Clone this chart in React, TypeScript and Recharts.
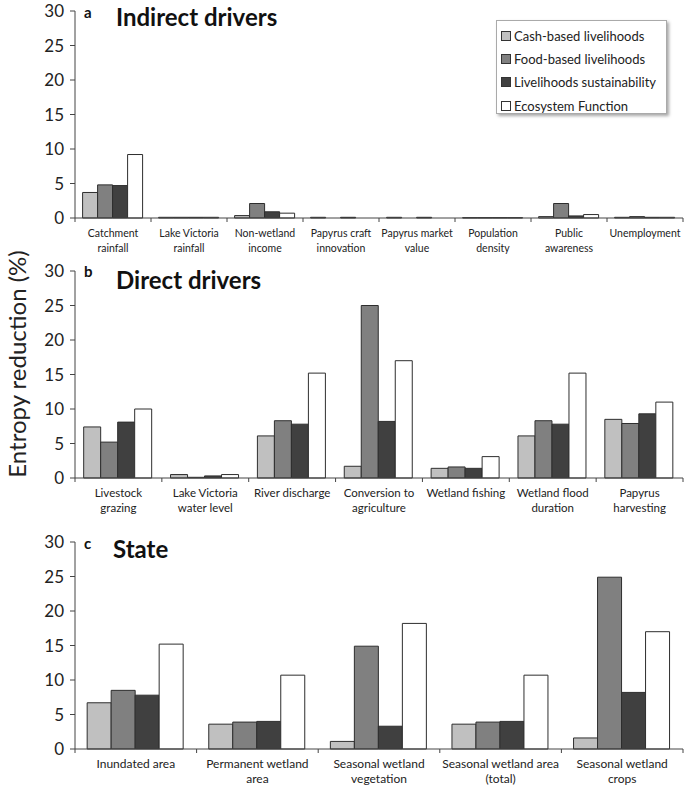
import React from "react";
import { BarChart, Bar, XAxis, YAxis } from "recharts";

const seriesNames = [
  "Cash-based livelihoods",
  "Food-based livelihoods",
  "Livelihoods sustainability",
  "Ecosystem Function",
];
const seriesKeys = ["cash", "food", "liv", "eco"];
const seriesFill = ["#c0c0c0", "#808080", "#404040", "#ffffff"];

const yTicks = [0, 5, 10, 15, 20, 25, 30];

// panel a
const indirectCats = [
  "Catchment\nrainfall",
  "Lake Victoria\nrainfall",
  "Non-wetland\nincome",
  "Papyrus craft\ninnovation",
  "Papyrus market\nvalue",
  "Population\ndensity",
  "Public\nawareness",
  "Unemployment",
];
const indirectCash = [3.7, 0.1, 0.35, 0.1, 0.1, 0.05, 0.2, 0.1];
const indirectFood = [4.8, 0.1, 2.1, 0, 0, 0.05, 2.1, 0.2];
const indirectLiv = [4.7, 0.1, 0.9, 0.1, 0.1, 0.05, 0.3, 0.1];
const indirectEco = [9.2, 0.1, 0.7, 0, 0, 0.05, 0.5, 0.1];

// panel b
const directCats = [
  "Livestock\ngrazing",
  "Lake Victoria\nwater level",
  "River discharge",
  "Conversion to\nagriculture",
  "Wetland fishing",
  "Wetland flood\nduration",
  "Papyrus\nharvesting",
];
const directCash = [7.4, 0.5, 6.1, 1.7, 1.4, 6.1, 8.5];
const directFood = [5.2, 0.1, 8.3, 25.0, 1.6, 8.3, 7.9];
const directLiv = [8.1, 0.3, 7.8, 8.2, 1.4, 7.8, 9.3];
const directEco = [10.0, 0.5, 15.2, 17.0, 3.1, 15.2, 11.0];

// panel c
const stateCats = [
  "Inundated area",
  "Permanent wetland\narea",
  "Seasonal wetland\nvegetation",
  "Seasonal wetland area\n(total)",
  "Seasonal wetland\ncrops",
];
const stateCash = [6.7, 3.6, 1.1, 3.6, 1.6];
const stateFood = [8.5, 3.9, 14.9, 3.9, 24.9];
const stateLiv = [7.8, 4.0, 3.3, 4.0, 8.2];
const stateEco = [15.2, 10.7, 18.2, 10.7, 17.0];

const build = (cats: string[], cols: number[][]) =>
  cats.map((name, i) => ({
    name,
    cash: cols[0][i],
    food: cols[1][i],
    liv: cols[2][i],
    eco: cols[3][i],
  }));

const FONT = "Lato, 'Open Sans', sans-serif";
const PLOT_W = 608;

function CatTick(props: any) {
  const { x, y, payload, index, n, fontSize } = props;
  const band = PLOT_W / n;
  const lines = String(payload.value).split("\n");
  return (
    <g>
      <line x1={x - band / 2} y1={y} x2={x - band / 2} y2={y + 4} stroke="#444" />
      {index === n - 1 && (
        <line x1={x + band / 2} y1={y} x2={x + band / 2} y2={y + 4} stroke="#444" />
      )}
      <text x={x} y={y} textAnchor="middle" fontSize={fontSize} fill="#222" fontFamily={FONT}>
        {lines.map((l, i) => (
          <tspan key={i} x={x} dy={i === 0 ? 19 : 15}>
            {l}
          </tspan>
        ))}
      </text>
    </g>
  );
}

function Panel({ data, top, height, marginTop, xHeight, labelSize }: any) {
  const n = data.length;
  return (
    <div style={{ position: "absolute", left: 0, top }}>
      <BarChart
        width={685}
        height={height}
        data={data}
        margin={{ top: marginTop, right: 2, bottom: 0, left: 0 }}
        barCategoryGap="10%"
        barGap={0}
      >
        <XAxis
          dataKey="name"
          interval={0}
          height={xHeight}
          tickLine={false}
          tickSize={0}
          tickMargin={0}
          axisLine={{ stroke: "#444" }}
          tick={<CatTick n={n} fontSize={labelSize} />}
        />
        <YAxis
          width={75}
          domain={[0, 30]}
          ticks={yTicks}
          interval={0}
          tickSize={5}
          tickMargin={6}
          axisLine={{ stroke: "#444" }}
          tickLine={{ stroke: "#444" }}
          tick={{ fontSize: 17, fill: "#222", fontFamily: FONT }}
        />
        {seriesKeys.map((k, i) => (
          <Bar
            key={k}
            dataKey={k}
            name={seriesNames[i]}
            fill={seriesFill[i]}
            stroke="#2e2e2e"
            strokeWidth={1}
            isAnimationActive={false}
          />
        ))}
      </BarChart>
    </div>
  );
}

export default function App() {
  return (
    <div
      style={{
        position: "absolute",
        left: 0,
        top: 0,
        width: 685,
        height: 788,
        background: "#fff",
        fontFamily: FONT,
        overflow: "hidden",
      }}
    >
      <Panel
        data={build(indirectCats, [indirectCash, indirectFood, indirectLiv, indirectEco])}
        top={0}
        height={258}
        marginTop={11}
        xHeight={40}
        labelSize={10.5}
      />
      <Panel
        data={build(directCats, [directCash, directFood, directLiv, directEco])}
        top={260}
        height={255}
        marginTop={11}
        xHeight={37}
        labelSize={11.5}
      />
      <Panel
        data={build(stateCats, [stateCash, stateFood, stateLiv, stateEco])}
        top={530}
        height={258}
        marginTop={12}
        xHeight={39}
        labelSize={12}
      />

      <svg
        width={685}
        height={788}
        style={{ position: "absolute", left: 0, top: 0, pointerEvents: "none" }}
      >
        <g fontFamily={FONT} fill="#111" fontWeight="bold">
          <text x={84} y={18} fontSize={15}>a</text>
          <text x={116} y={26} fontSize={24}>Indirect drivers</text>
          <text x={84} y={277} fontSize={15}>b</text>
          <text x={116} y={289} fontSize={24}>Direct drivers</text>
          <text x={84} y={549} fontSize={15}>c</text>
          <text x={113} y={558} fontSize={24}>State</text>
        </g>
        <text
          x={0}
          y={0}
          transform="translate(26, 364) rotate(-90)"
          textAnchor="middle"
          fontSize={24}
          fill="#222"
          fontFamily={FONT}
        >
          Entropy reduction (%)
        </text>
      </svg>

      <div
        style={{
          position: "absolute",
          left: 496,
          top: 20,
          width: 171,
          height: 94,
          border: "1px solid #aaa",
          boxShadow: "2px 2px 3px rgba(0,0,0,0.35)",
          background: "#fff",
          boxSizing: "border-box",
          paddingTop: 3,
        }}
      >
        {seriesNames.map((s, i) => (
          <div
            key={s}
            style={{
              display: "flex",
              alignItems: "center",
              height: 23.4,
              fontSize: 13,
              color: "#222",
              paddingLeft: 4,
              whiteSpace: "nowrap",
            }}
          >
            <span
              style={{
                display: "inline-block",
                width: 8,
                height: 8,
                background: seriesFill[i],
                border: "1px solid #333",
                marginRight: 3,
              }}
            />
            {s}
          </div>
        ))}
      </div>
    </div>
  );
}
